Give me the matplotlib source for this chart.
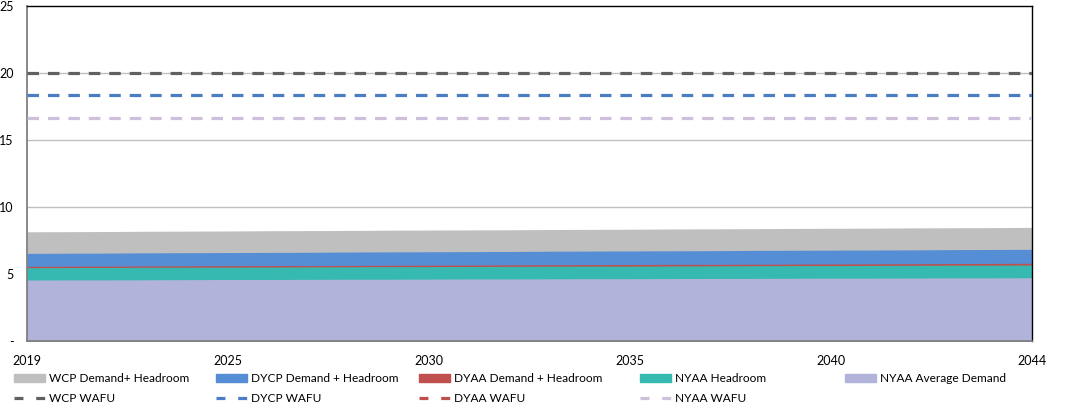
import matplotlib.pyplot as plt
from matplotlib.patches import Patch
from matplotlib.lines import Line2D

years = list(range(2019, 2045))
tick_labels = ["2019", "2025", "2030", "2035", "2040", "2044"]

# area series (level of top edge, Ml/d)
wcp_demand_headroom = [8.15, 8.16, 8.17, 8.19, 8.20, 8.21, 8.23, 8.24, 8.25, 8.27, 8.28, 8.29, 8.30,
                       8.32, 8.33, 8.34, 8.36, 8.37, 8.38, 8.40, 8.41, 8.42, 8.44, 8.45, 8.46, 8.48]
dycp_demand_headroom = [6.54, 6.55, 6.56, 6.58, 6.59, 6.60, 6.61, 6.62, 6.64, 6.65, 6.66, 6.67, 6.68,
                        6.70, 6.71, 6.72, 6.73, 6.74, 6.76, 6.77, 6.78, 6.79, 6.80, 6.82, 6.83, 6.84]
dyaa_demand_headroom = [5.57, 5.58, 5.59, 5.60, 5.61, 5.62, 5.63, 5.63, 5.64, 5.65, 5.66, 5.67, 5.68,
                        5.69, 5.70, 5.71, 5.72, 5.72, 5.73, 5.74, 5.75, 5.76, 5.77, 5.78, 5.79, 5.80]
nyaa_headroom = [5.47, 5.48, 5.49, 5.50, 5.51, 5.51, 5.52, 5.53, 5.54, 5.55, 5.55, 5.56, 5.57,
                 5.58, 5.59, 5.59, 5.60, 5.61, 5.62, 5.63, 5.63, 5.64, 5.65, 5.66, 5.66, 5.67]
nyaa_avg_demand = [4.55, 4.56, 4.56, 4.57, 4.58, 4.59, 4.59, 4.60, 4.61, 4.61, 4.62, 4.63, 4.63,
                   4.64, 4.65, 4.65, 4.66, 4.67, 4.67, 4.68, 4.69, 4.69, 4.70, 4.71, 4.71, 4.72]

# water available for use (flat)
wcp_wafu = [20.0] * len(years)
dycp_wafu = [18.35] * len(years)
dyaa_wafu = [26.5] * len(years)   # above axis range, not visible in chart
nyaa_wafu = [16.65] * len(years)

area_names = ["WCP Demand+ Headroom", "DYCP Demand + Headroom", "DYAA Demand + Headroom",
              "NYAA Headroom", "NYAA Average Demand"]
area_colors = ["#BFBFBF", "#558ED5", "#C0504D", "#36B9B1", "#B1B3DA"]
line_names = ["WCP WAFU", "DYCP WAFU", "DYAA WAFU", "NYAA WAFU"]
line_colors = ["#606060", "#4A7EC2", "#C0504D", "#CCC0DA"]

plt.rcParams["font.family"] = ["Lato", "DejaVu Sans"]

fig = plt.figure(figsize=(10.66, 4.08), dpi=100)
ax = fig.add_axes([27 / 1066, 1 - 341 / 408, 1005 / 1066, 335 / 408])

x = list(range(len(years)))
areas = [wcp_demand_headroom, dycp_demand_headroom, dyaa_demand_headroom, nyaa_headroom, nyaa_avg_demand]
for vals, c in zip(areas, area_colors):
    ax.fill_between(x, 0, vals, color=c, linewidth=0, zorder=2)

for y in [5, 10, 15, 20]:
    ax.axhline(y, color="#BFBFBF", linewidth=1, zorder=1)

lines = [wcp_wafu, dycp_wafu, dyaa_wafu, nyaa_wafu]
for vals, c in zip(lines, line_colors):
    ax.plot(x, vals, color=c, linewidth=2.3, dashes=(3.6, 2.8), zorder=3)

ax.set_xlim(0, len(years) - 1)
ax.set_ylim(0, 25)
ax.set_yticks([0, 5, 10, 15, 20, 25])
ax.set_yticklabels(["-", "5", "10", "15", "20", "25"])
ax.set_xticks([0, 5, 10, 15, 20, 25])
ax.set_xticklabels(tick_labels)
ax.tick_params(length=0, labelsize=9, colors="black")
ax.tick_params(axis="x", pad=10)
ax.tick_params(axis="y", pad=9.5)

for side in ["top", "right"]:
    ax.spines[side].set_color("#000000")
    ax.spines[side].set_linewidth(1)
ax.spines["left"].set_color("#808080")
ax.spines["bottom"].set_color("#808080")
ax.spines["left"].set_linewidth(1.3)
ax.spines["bottom"].set_linewidth(1.3)

# legend: five columns, areas on top row, WAFU lines below
col_x = [14, 216, 419, 640, 845]
for i, px in enumerate(col_x):
    handles = [Patch(color=area_colors[i])]
    labels = [area_names[i]]
    if i < len(line_names):
        handles.append(Line2D([], [], color=line_colors[i], linewidth=2.3, dashes=(2.8, 4.0)))
        labels.append(line_names[i])
    fig.legend(handles, labels, loc="upper left", bbox_to_anchor=(px / 1066, 1 - 373 / 408),
               frameon=False, fontsize=8.6, handlelength=2.6, handleheight=0.6,
               handletextpad=0.3, labelspacing=0.75, borderaxespad=0, borderpad=0)

fig.savefig("out.png", dpi=100)
